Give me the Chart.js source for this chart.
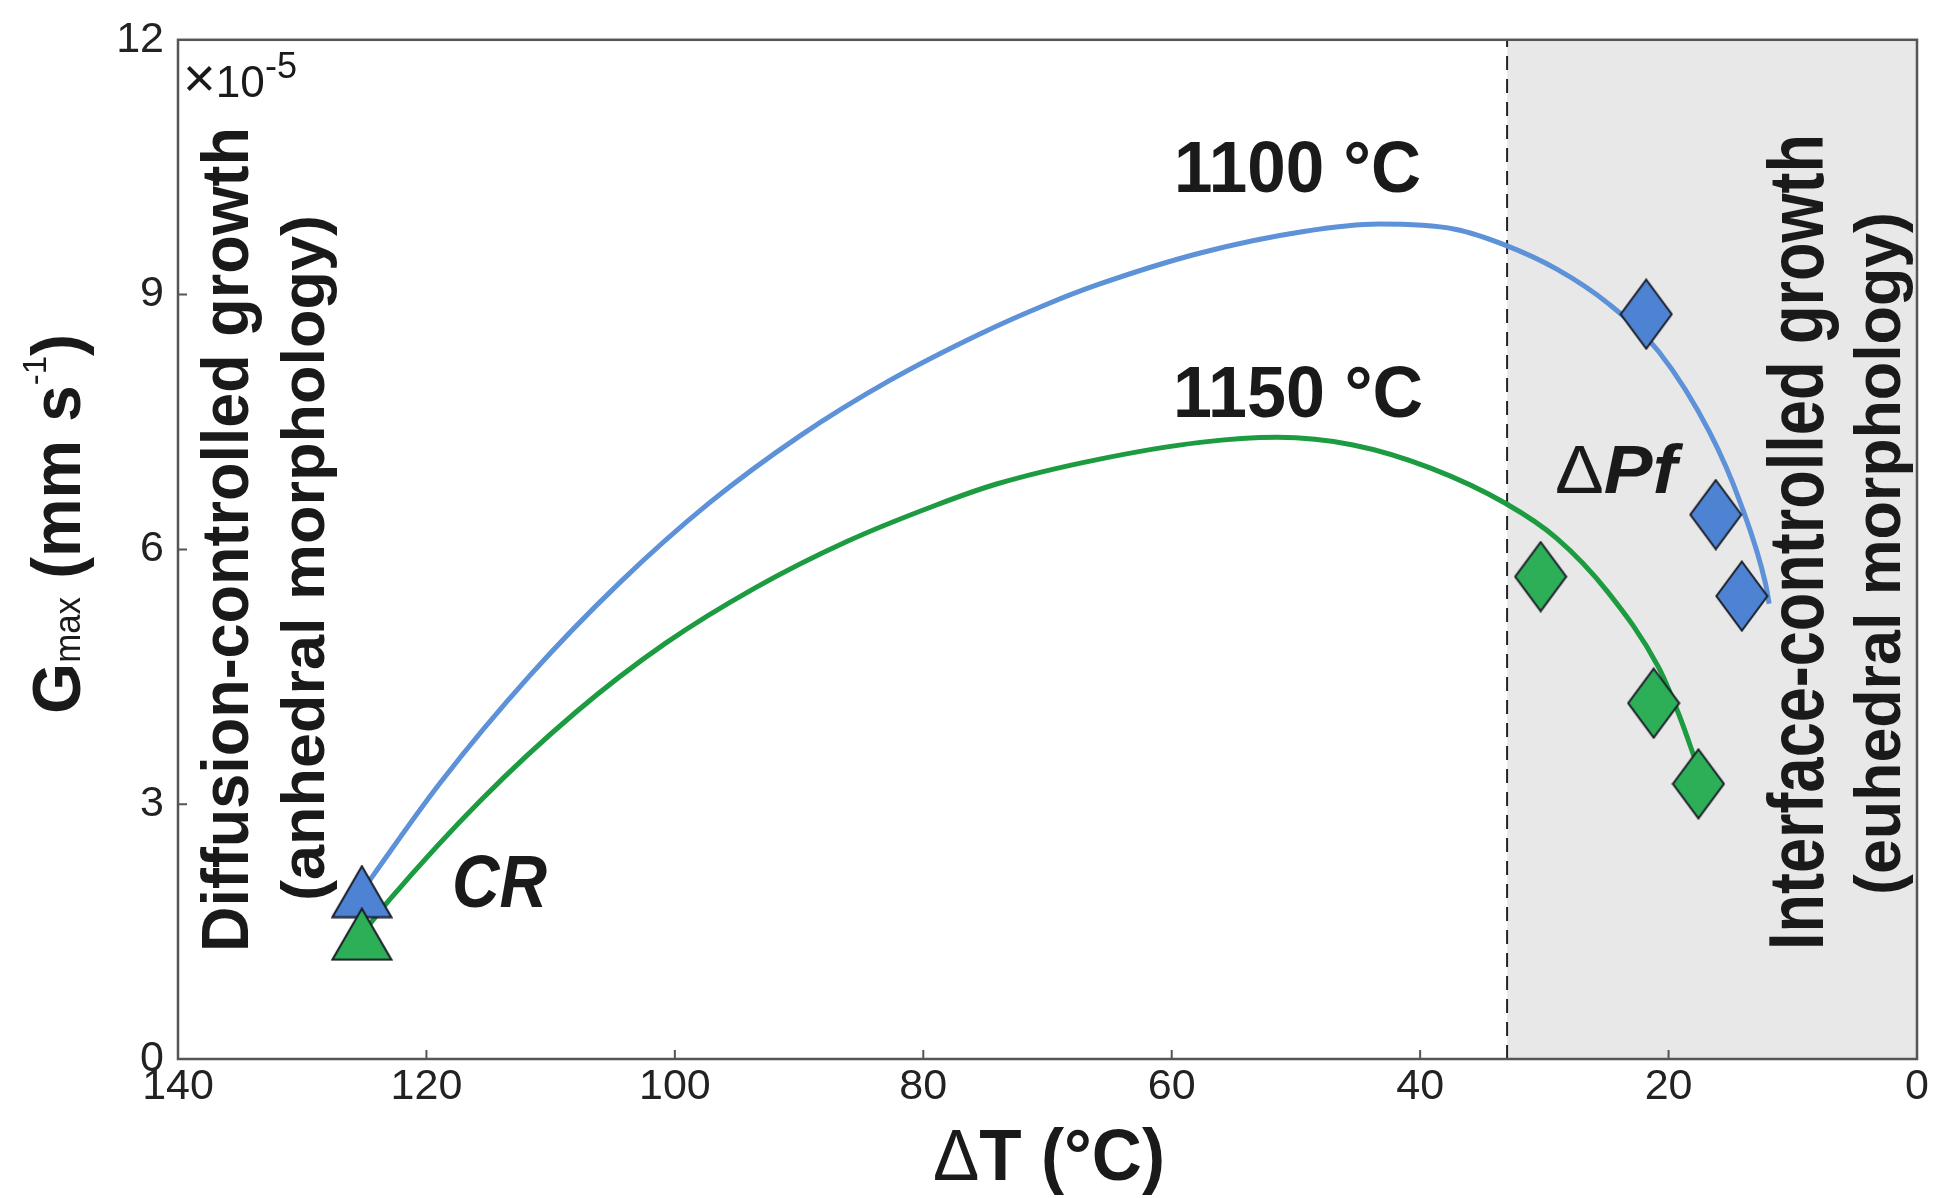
<!DOCTYPE html>
<html>
<head>
<meta charset="utf-8">
<script src="https://cdn.jsdelivr.net/npm/chart.js@4.4.1/dist/chart.umd.min.js"></script>
<style>
  html, body { margin: 0; padding: 0; background: #fff; }
  canvas { display: block; }
</style>
</head>
<body>
<canvas id="growth-chart" width="1938" height="1198"></canvas>
<script>
const FONT = '"Liberation Sans", Arial, Helvetica, sans-serif';

// Gmax (x1e-5 mm/s) against undercooling dT (°C)
const curve1100DT = [125.2, 124.2, 118.9, 111.7, 104.5, 97.2, 89.9, 82.7, 75.4, 70.0, 65.9, 57.7, 49.5, 43.3, 37.2, 33.1, 29.0, 24.9, 20.8, 16.7, 14.2, 12.2, 11.9];
const curve1100G  = [1.97, 2.18, 3.25, 4.51, 5.60, 6.55, 7.34, 7.99, 8.54, 8.89, 9.12, 9.49, 9.74, 9.83, 9.77, 9.58, 9.30, 8.90, 8.33, 7.38, 6.54, 5.60, 5.36];

const curve1150DT = [125.2, 123.0, 115.6, 108.0, 100.8, 93.5, 86.2, 79.0, 74.1, 65.9, 57.7, 51.5, 45.4, 39.2, 33.1, 29.0, 24.9, 20.8, 19.1, 17.8];
const curve1150G  = [1.47, 1.87, 3.05, 4.08, 4.89, 5.55, 6.09, 6.52, 6.77, 7.06, 7.26, 7.32, 7.23, 6.96, 6.54, 6.13, 5.50, 4.61, 4.03, 3.50];

// cooling-rate runs (triangles)
const crDT = [125.2];
const crG1100 = [1.97];
const crG1150 = [1.47];

// delta-Pf runs (diamonds)
const pfDT1100 = [21.8, 16.2, 14.1];
const pfG1100  = [8.77, 6.41, 5.45];
const pfDT1150 = [30.3, 21.2, 17.6];
const pfG1150  = [5.68, 4.19, 3.24];

const pfLimit = 33;
const xTicks = [140, 120, 100, 80, 60, 40, 20, 0];
const yTicks = [0, 3, 6, 9, 12];

const BLUE_LINE = '#5d91d8';
const BLUE_FILL = '#4d83d2';
const GREEN_LINE = '#1c9b41';
const GREEN_FILL = '#2caf57';

const pts = (xs, ys) => xs.map((x, i) => ({ x: x, y: ys[i] }));

function markerCanvas(shape, w, h, fill) {
  const c = document.createElement('canvas');
  c.width = w;
  c.height = h;
  const g = c.getContext('2d');
  g.beginPath();
  if (shape === 'diamond') {
    g.moveTo(w / 2, 1.5);
    g.lineTo(w - 1.5, h / 2);
    g.lineTo(w / 2, h - 1.5);
    g.lineTo(1.5, h / 2);
  } else {
    g.moveTo(w / 2, 1.5);
    g.lineTo(w - 1.5, h - 1.5);
    g.lineTo(1.5, h - 1.5);
  }
  g.closePath();
  g.fillStyle = fill;
  g.fill();
  g.lineWidth = 2;
  g.strokeStyle = '#1b1d28';
  g.stroke();
  return c;
}

// draws a run of text pieces, stretched to a given length
function fitText(ctx, parts, x, y, length, angle) {
  ctx.save();
  ctx.translate(x, y);
  ctx.rotate(angle || 0);
  ctx.textAlign = 'left';
  ctx.textBaseline = 'alphabetic';
  ctx.fillStyle = '#1a1a1a';
  let natural = 0;
  parts.forEach(p => {
    ctx.font = p.font;
    p.w = ctx.measureText(p.t).width;
    natural += p.w;
  });
  ctx.scale(length / natural, 1);
  let cx = 0;
  parts.forEach(p => {
    ctx.font = p.font;
    ctx.fillText(p.t, cx, p.dy || 0);
    cx += p.w;
  });
  ctx.restore();
}

const UP = -Math.PI / 2;

const frame = {
  id: 'frame',
  beforeDraw(chart) {
    const ctx = chart.ctx;
    ctx.save();
    ctx.fillStyle = '#fff';
    ctx.fillRect(0, 0, chart.width, chart.height);
    ctx.restore();
  },
  afterDatasetsDraw(chart) {
    const ctx = chart.ctx;
    const a = chart.chartArea;
    const xs = chart.scales.x;
    const ys = chart.scales.y;

    ctx.save();
    ctx.strokeStyle = '#555';
    ctx.lineWidth = 2.5;
    ctx.strokeRect(a.left, a.top, a.right - a.left, a.bottom - a.top);

    // inward tick marks
    ctx.lineWidth = 2;
    ctx.beginPath();
    xTicks.slice(1, -1).forEach(v => {
      const px = xs.getPixelForValue(v);
      ctx.moveTo(px, a.bottom);
      ctx.lineTo(px, a.bottom - 9);
    });
    yTicks.slice(1, -1).forEach(v => {
      const py = ys.getPixelForValue(v);
      ctx.moveTo(a.left, py);
      ctx.lineTo(a.left + 9, py);
    });
    ctx.stroke();
    ctx.restore();

    const B = 'bold ';
    const BI = 'italic bold ';

    // exponent of the y axis
    fitText(ctx, [
      { t: '\u00d7', font: `56px ${FONT}` },
      { t: '10', font: `44px ${FONT}` },
      { t: '-5', font: `36px ${FONT}`, dy: -19 }
    ], 183, 97, 114);

    // curve labels
    fitText(ctx, [{ t: '1100 \u00b0C', font: `${B}72px ${FONT}` }], 1174, 192, 247);
    fitText(ctx, [{ t: '1150 \u00b0C', font: `${B}72px ${FONT}` }], 1173, 417, 250);
    fitText(ctx, [
      { t: '\u0394', font: `68px ${FONT}` },
      { t: 'Pf', font: `${BI}68px ${FONT}` }
    ], 1555, 493, 122);
    fitText(ctx, [{ t: 'CR', font: `${BI}75px ${FONT}` }], 452, 907, 95);

    // growth regimes
    fitText(ctx, [{ t: 'Diffusion-controlled growth', font: `${B}66px ${FONT}` }], 248, 952, 825, UP);
    fitText(ctx, [{ t: '(anhedral morphology)', font: `${B}62px ${FONT}` }], 324, 901, 686, UP);
    fitText(ctx, [{ t: 'Interface-controlled growth', font: `${B}78px ${FONT}` }], 1823, 950, 816, UP);
    fitText(ctx, [{ t: '(euhedral morphology)', font: `${B}64px ${FONT}` }], 1900, 895, 683, UP);

    // axis titles
    fitText(ctx, [
      { t: '\u0394', font: `72px ${FONT}` },
      { t: 'T (\u00b0C)', font: `${B}72px ${FONT}` }
    ], 933, 1180, 232);
    fitText(ctx, [
      { t: 'G', font: `${B}68px ${FONT}` },
      { t: 'max', font: `36px ${FONT}` },
      { t: ' (mm s', font: `${B}68px ${FONT}` },
      { t: '-1', font: `34px ${FONT}`, dy: -34 },
      { t: ')', font: `${B}68px ${FONT}` }
    ], 80, 714, 380, UP);
  }
};

const diamondBlue = markerCanvas('diamond', 54, 72, BLUE_FILL);
const diamondGreen = markerCanvas('diamond', 54, 72, GREEN_FILL);
const triBlue = markerCanvas('triangle', 62, 54, BLUE_FILL);
const triGreen = markerCanvas('triangle', 62, 54, GREEN_FILL);

const markerSet = (data, style, order) => ({
  data: data,
  showLine: false,
  pointStyle: style,
  pointRadius: 20,
  order: order
});

const lineSet = (data, color) => ({
  data: data,
  showLine: true,
  borderColor: color,
  borderWidth: 5,
  pointRadius: 0,
  cubicInterpolationMode: 'monotone',
  fill: false,
  order: 5
});

new Chart(document.getElementById('growth-chart'), {
  type: 'scatter',
  data: {
    datasets: [
      {
        // interface-controlled field
        data: [{ x: pfLimit, y: 12 }, { x: 0, y: 12 }],
        showLine: true,
        fill: 'start',
        backgroundColor: '#e8e8e8',
        borderWidth: 0,
        pointRadius: 0,
        order: 10
      },
      {
        data: [{ x: pfLimit, y: 0 }, { x: pfLimit, y: 12 }],
        showLine: true,
        borderColor: '#222',
        borderWidth: 2,
        borderDash: [14, 9],
        pointRadius: 0,
        order: 9
      },
      lineSet(pts(curve1100DT, curve1100G), BLUE_LINE),
      lineSet(pts(curve1150DT, curve1150G), GREEN_LINE),
      markerSet(pts(pfDT1100, pfG1100), diamondBlue, 3),
      markerSet(pts(pfDT1150, pfG1150), diamondGreen, 3),
      markerSet(pts(crDT, crG1100), triBlue, 2),
      markerSet(pts(crDT, crG1150), triGreen, 1)
    ]
  },
  options: {
    responsive: false,
    animation: false,
    layout: { padding: { top: 37, right: 16, left: 0, bottom: 0 } },
    plugins: {
      legend: { display: false },
      tooltip: { enabled: false }
    },
    scales: {
      x: {
        type: 'linear',
        reverse: true,
        min: 0,
        max: 140,
        grid: { display: false, drawTicks: false },
        border: { display: false },
        afterBuildTicks: s => { s.ticks = xTicks.map(v => ({ value: v })); },
        afterFit: s => { s.height = 139; },
        ticks: {
          autoSkip: false,
          maxRotation: 0,
          padding: 2,
          color: '#222',
          font: { family: FONT, size: 43 }
        }
      },
      y: {
        type: 'linear',
        min: 0,
        max: 12,
        grid: { display: false, drawTicks: false },
        border: { display: false },
        afterBuildTicks: s => { s.ticks = yTicks.map(v => ({ value: v })); },
        afterFit: s => { s.width = 178; },
        ticks: {
          padding: 14,
          color: '#222',
          font: { family: FONT, size: 43 }
        }
      }
    }
  },
  plugins: [frame]
});
</script>
</body>
</html>
